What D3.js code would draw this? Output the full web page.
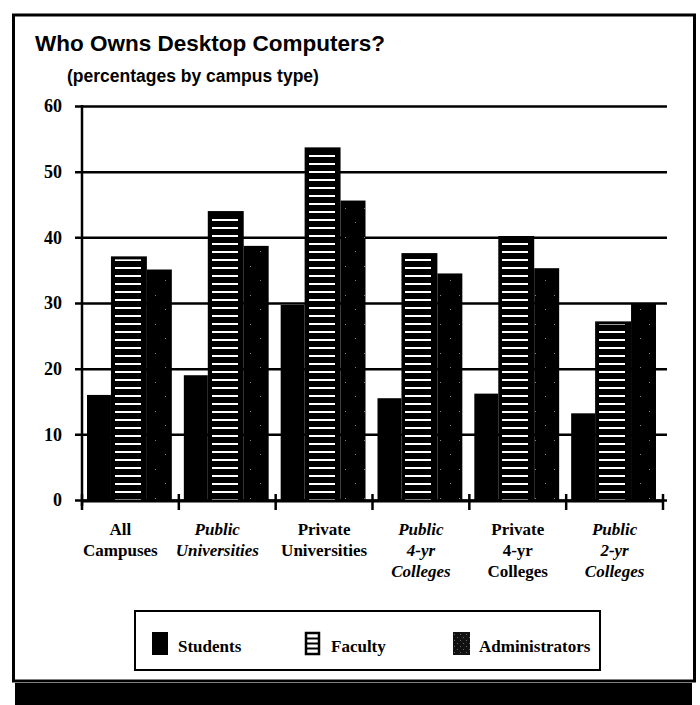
<!DOCTYPE html>
<html>
<head>
<meta charset="utf-8">
<script src="https://cdn.jsdelivr.net/npm/d3@7"></script>
<style>
  html, body { margin: 0; padding: 0; background: #fff; }
  svg { display: block; }
</style>
</head>
<body>
<svg id="chart" width="700" height="705"></svg>
<script>
// ---- data ----
const categories = ["All Campuses", "Public Universities", "Private Universities",
                    "Public 4-yr Colleges", "Private 4-yr Colleges", "Public 2-yr Colleges"];
const categoryLines = [["All", "Campuses"], ["Public", "Universities"], ["Private", "Universities"],
                       ["Public", "4-yr", "Colleges"], ["Private", "4-yr", "Colleges"], ["Public", "2-yr", "Colleges"]];
const seriesNames = ["Students", "Faculty", "Administrators"];
const students = [16, 19, 29.7, 15.5, 16.2, 13.2];
const faculty = [37.1, 44, 53.7, 37.6, 40.2, 27.2];
const administrators = [35.1, 38.7, 45.6, 34.5, 35.3, 30];
const yTicks = [0, 10, 20, 30, 40, 50, 60];
const title = "Who Owns Desktop Computers?";
const subtitle = "(percentages by campus type)";

const seriesValues = [students, faculty, administrators];
const rows = [];
categories.forEach((c, i) => seriesNames.forEach((s, j) => rows.push({cat: c, series: s, value: seriesValues[j][i]})));

// ---- layout ----
const svg = d3.select("#chart");
const x0 = 82, x1 = 663, yTop = 106, yBase = 500, gridRight = 667;
const serif = "'Liberation Serif', 'DejaVu Serif', serif";
const sans = "'Liberation Sans', Arial, sans-serif";

const y = d3.scaleLinear().domain([0, 60]).range([yBase, yTop]);
const xCat = d3.scaleBand().domain(categories).range([x0, x1]).padding(0);
// relative bar widths within a group (faculty bars are drawn wider)
const widthWeights = [24, 36, 25];
const groupInner = d3.scaleLinear().domain([0, d3.sum(widthWeights)]).range([5, xCat.bandwidth() - 7]);
const offsets = [0, ...d3.cumsum(widthWeights)];
const barX = s => groupInner(offsets[seriesNames.indexOf(s)]);
const barW = s => groupInner(offsets[seriesNames.indexOf(s) + 1]) - barX(s);

// ---- patterns ----
const defs = svg.append("defs");
const stripe = defs.append("pattern").attr("id", "stripes")
  .attr("patternUnits", "userSpaceOnUse").attr("width", 8).attr("height", 8)
  .attr("y", 0);
stripe.append("rect").attr("width", 8).attr("height", 8).attr("fill", "#000");
stripe.append("rect").attr("x", 0).attr("y", 3).attr("width", 8).attr("height", 2).attr("fill", "#fff");

const speck = defs.append("pattern").attr("id", "speckle")
  .attr("patternUnits", "userSpaceOnUse").attr("width", 19).attr("height", 29);
speck.append("rect").attr("width", 19).attr("height", 29).attr("fill", "#000");
[[3, 5], [13, 19]].forEach(([cx, cy]) =>
  speck.append("rect").attr("x", cx).attr("y", cy).attr("width", 1).attr("height", 1).attr("fill", "#888"));

const speckDense = defs.append("pattern").attr("id", "speckleDense")
  .attr("patternUnits", "userSpaceOnUse").attr("width", 6).attr("height", 6);
speckDense.append("rect").attr("width", 6).attr("height", 6).attr("fill", "#111");
[[1, 1], [4, 4]].forEach(([cx, cy]) =>
  speckDense.append("rect").attr("x", cx).attr("y", cy).attr("width", 1).attr("height", 1).attr("fill", "#666"));

// ---- frame ----
svg.append("rect").attr("x", 15).attr("y", 683).attr("width", 677).attr("height", 22).attr("fill", "#000");
svg.append("rect").attr("x", 13.5).attr("y", 15).attr("width", 681).attr("height", 666)
  .attr("fill", "none").attr("stroke", "#000").attr("stroke-width", 3);

// ---- titles ----
svg.append("text").attr("x", 35).attr("y", 51).attr("font-family", sans).attr("font-weight", "bold")
  .attr("font-size", 22.5).attr("fill", "#000").text(title);
svg.append("text").attr("x", 67).attr("y", 82).attr("font-family", sans).attr("font-weight", "bold")
  .attr("font-size", 17.5).attr("fill", "#000").text(subtitle);

// ---- gridlines + y axis ----
const yAxis = d3.axisLeft(y).tickValues(yTicks).tickSize(-(gridRight - x0)).tickSizeOuter(0).tickPadding(18);
const gy = svg.append("g").attr("transform", `translate(${x0},0)`).call(yAxis);
gy.select(".domain").remove();
gy.selectAll(".tick line").attr("x1", -7).attr("stroke", "#000").attr("stroke-width", 2.5);
gy.selectAll(".tick text").attr("font-family", serif).attr("font-weight", "bold")
  .attr("font-size", 18).attr("fill", "#000").attr("dx", -2);

svg.append("line").attr("x1", x0).attr("x2", x0).attr("y1", yTop - 1).attr("y2", yBase + 6)
  .attr("stroke", "#000").attr("stroke-width", 2.5);

// ---- bars ----
const gBars = svg.append("g");
rows.forEach(d => {
  const bx = xCat(d.cat) + barX(d.series);
  const bw = barW(d.series);
  const by = y(d.value);
  const bh = yBase - by;
  if (d.series === "Students") {
    gBars.append("rect").attr("x", bx).attr("y", by).attr("width", bw).attr("height", bh).attr("fill", "#000");
  } else if (d.series === "Faculty") {
    gBars.append("rect").attr("x", bx).attr("y", by).attr("width", bw).attr("height", bh).attr("fill", "#000");
    gBars.append("rect").attr("x", Math.round(bx + 4)).attr("y", by + 3).attr("width", Math.round(bw - 10)).attr("height", bh - 3)
      .attr("fill", "url(#stripes)");
  } else {
    gBars.append("rect").attr("x", bx).attr("y", by).attr("width", bw).attr("height", bh).attr("fill", "url(#speckle)");
  }
});

// ---- x axis ----
svg.append("line").attr("x1", x0).attr("x2", x1).attr("y1", yBase + 1).attr("y2", yBase + 1)
  .attr("stroke", "#000").attr("stroke-width", 3);
const bounds = categories.map(c => xCat(c)).concat([x1]);
svg.append("g").selectAll("line").data(bounds).join("line")
  .attr("x1", d => d).attr("x2", d => d).attr("y1", yBase - 6).attr("y2", yBase + 10)
  .attr("stroke", "#000").attr("stroke-width", 2.5);

const gLab = svg.append("g");
categories.forEach((c, i) => {
  const italic = categoryLines[i][0] === "Public";
  const cx = xCat(c) + xCat.bandwidth() / 2 - (i < 2 ? 10 : 0);
  const t = gLab.append("text").attr("x", cx).attr("y", 535)
    .attr("text-anchor", "middle").attr("font-family", serif).attr("font-weight", "bold")
    .attr("font-size", 17).attr("font-style", italic ? "italic" : "normal").attr("fill", "#000");
  categoryLines[i].forEach((line, k) => {
    t.append("tspan").attr("x", cx).attr("dy", k === 0 ? 0 : 21).text(line);
  });
});

// ---- legend ----
svg.append("rect").attr("x", 135).attr("y", 611).attr("width", 465).attr("height", 59)
  .attr("fill", "#fff").attr("stroke", "#000").attr("stroke-width", 2);
const legendX = [152, 305, 453];
const gLeg = svg.append("g");
seriesNames.forEach((s, i) => {
  const lx = legendX[i];
  if (s === "Students") {
    gLeg.append("rect").attr("x", lx).attr("y", 632).attr("width", 16).attr("height", 23).attr("fill", "#000");
  } else if (s === "Faculty") {
    gLeg.append("rect").attr("x", lx + 1).attr("y", 633).attr("width", 13).attr("height", 21)
      .attr("fill", "#fff").attr("stroke", "#000").attr("stroke-width", 2.5);
    [638.5, 643.5, 648.5].forEach(ly =>
      gLeg.append("line").attr("x1", lx + 1).attr("x2", lx + 14).attr("y1", ly).attr("y2", ly)
        .attr("stroke", "#000").attr("stroke-width", 2));
  } else {
    gLeg.append("rect").attr("x", lx).attr("y", 632).attr("width", 17).attr("height", 23).attr("fill", "url(#speckleDense)");
  }
  gLeg.append("text").attr("x", lx + 26).attr("y", 652).attr("font-family", serif).attr("font-weight", "bold")
    .attr("font-size", 17).attr("fill", "#000").text(s);
});
</script>
</body>
</html>
